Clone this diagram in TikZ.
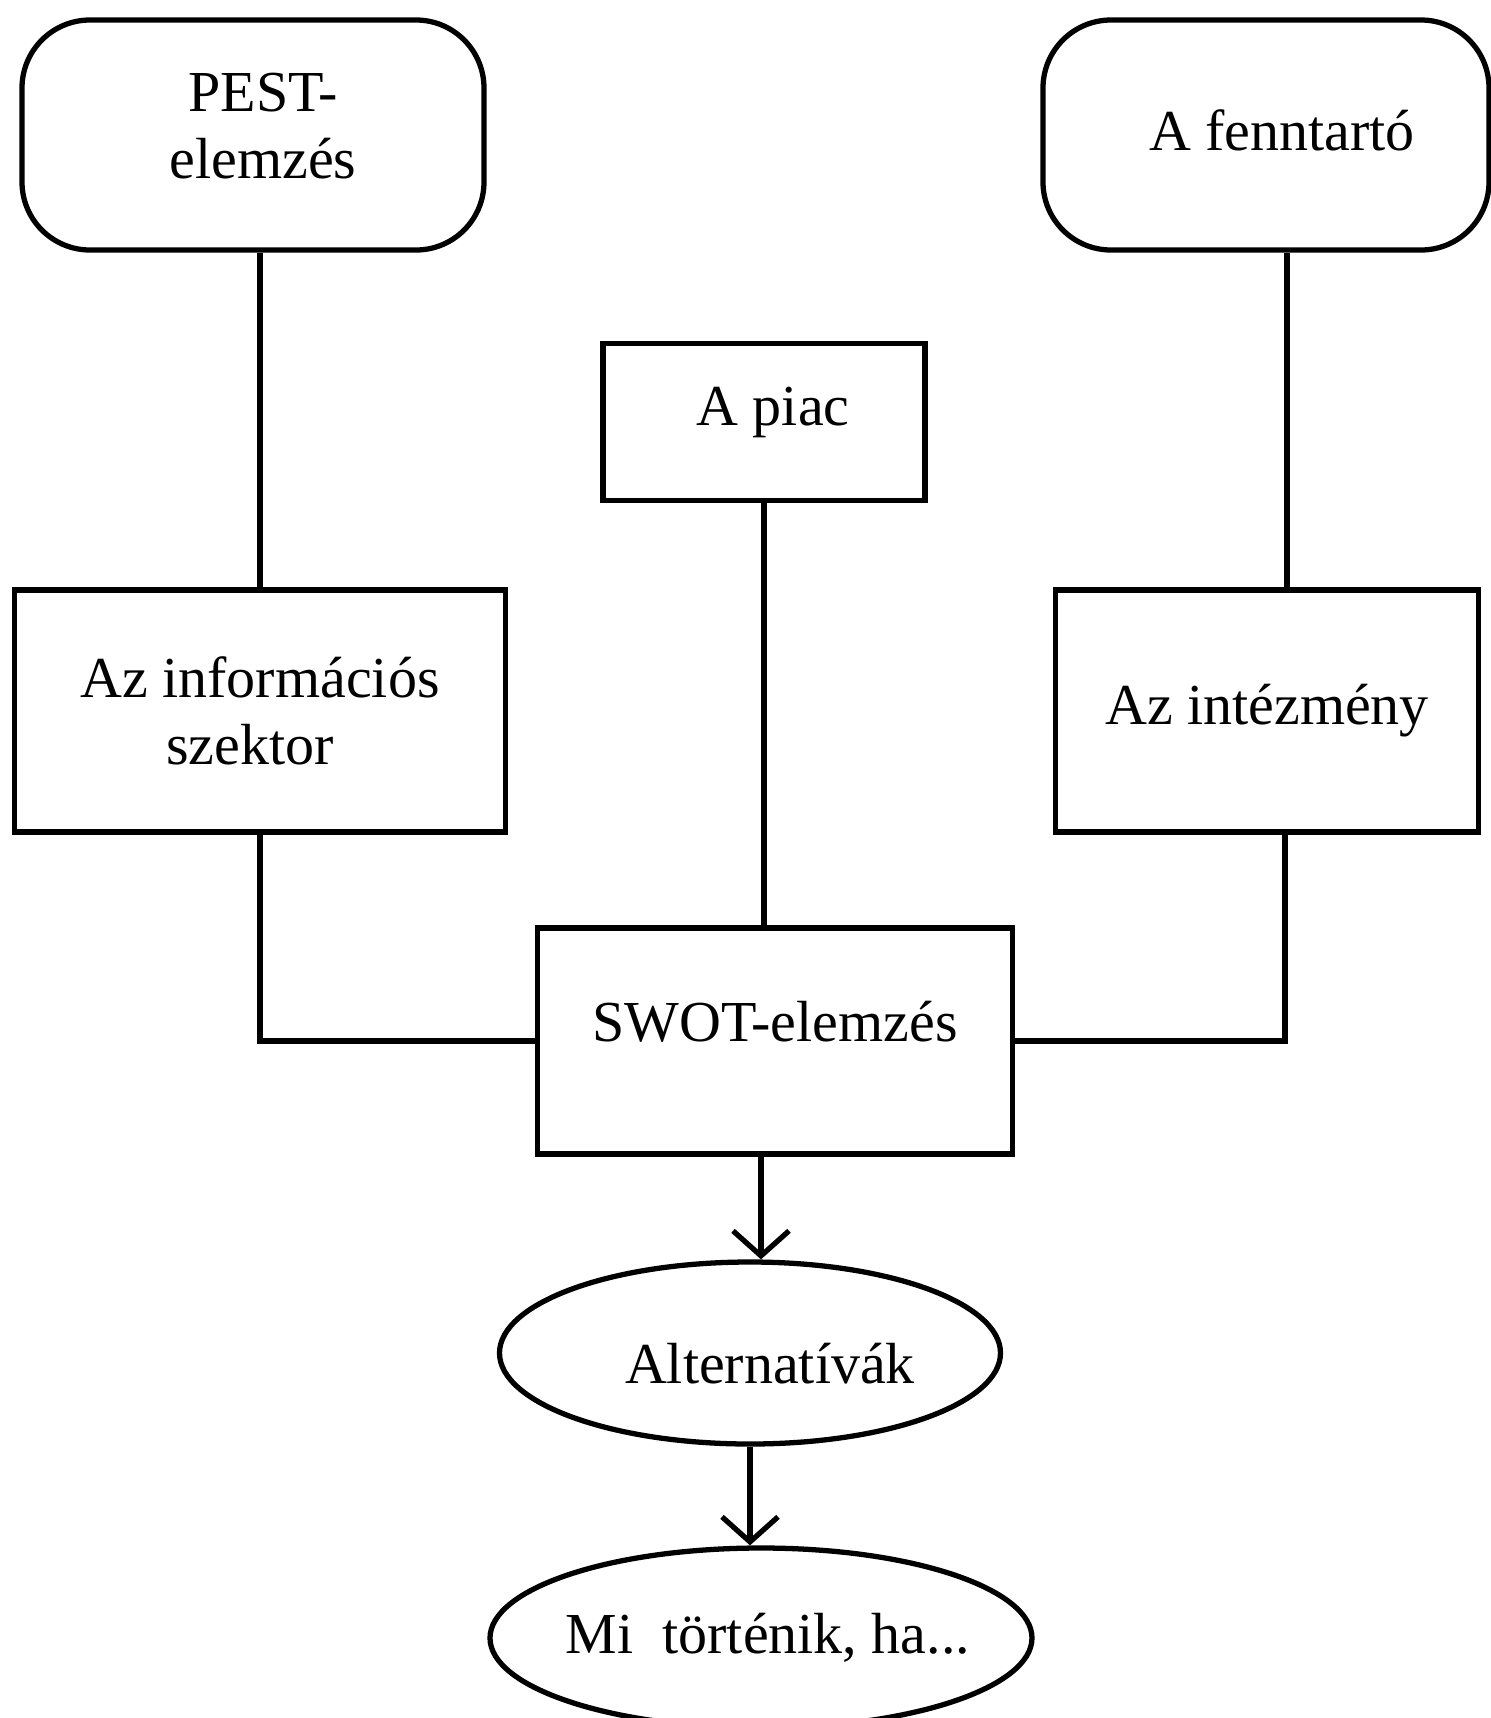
\documentclass[tikz,border=0pt]{standalone}
\usepackage{fontspec}
\setmainfont{Liberation Serif}
\usetikzlibrary{shapes.geometric,arrows.meta}

\begin{document}
\begin{tikzpicture}[x=0.1mm, y=-0.1mm, line width=1.5pt,
  every node/.style = {font=\fontsize{16.5}{19}\selectfont, align=center, inner sep=0pt},
  plainbox/.style = {draw, rectangle},
  roundbox/.style = {draw, rectangle, rounded corners=6.8mm},
  ovalbox/.style = {draw, ellipse, inner xsep=-3mm},
  arr/.style = {-{Straight Barb[length=2.5mm, width=5.6mm]}}]
  \useasboundingbox (0,0) rectangle (1491,1718);

  % top row
  \node[roundbox, minimum width=46.2mm, minimum height=23mm] (pest) at (253,135) {\raisebox{1.8mm}{\hspace*{2mm}PEST-}\\\raisebox{1.8mm}{\hspace*{2mm}elemzés}};
  \node[roundbox, minimum width=44.6mm, minimum height=23mm] (fenntarto) at (1266,135) {\raisebox{1mm}{\hspace*{3.2mm}A fenntartó}};
  \node[plainbox, minimum width=32.2mm, minimum height=15.7mm] (piac) at (764,422) {\raisebox{3.1mm}{\hspace*{1.8mm}A piac}};

  % middle row
  \node[plainbox, minimum width=49.1mm, minimum height=24.2mm] (info) at (260,711) {Az információs\\szektor\hspace*{2mm}};
  \node[plainbox, minimum width=42.3mm, minimum height=24.2mm] (intezmeny) at (1267,711) {Az intézmény};
  \node[plainbox, minimum width=47.5mm, minimum height=22.6mm] (swot) at (775,1041) {\raisebox{4mm}{SWOT-elemzés}};

  % bottom
  \node[ovalbox, minimum width=50.1mm, minimum height=18.2mm] (alt) at (750,1353) {\hspace*{4mm}Alternatívák\rule{0pt}{6.2mm}};
  \node[ovalbox, minimum width=54.2mm, minimum height=18mm] (mi) at (761,1638) {\hspace*{1.4mm}Mi\ \ történik, ha...};

  % lines
  \draw (info.north) -- (info.north |- pest.south);
  \draw ([xshift=2mm]intezmeny.north) -- ([xshift=2mm]intezmeny.north |- fenntarto.south);
  \draw (piac.south) -- (piac.south |- swot.north);
  \draw (info.south) |- (swot.west);
  \draw ([xshift=1.8mm]intezmeny.south) |- (swot.east);

  % arrows
  \draw[arr] ([xshift=1.1mm]swot.south -| alt.north) -- ([xshift=1.1mm]alt.north);
  \draw[arr] (alt.south) -- (alt.south |- mi.north);
\end{tikzpicture}
\end{document}
